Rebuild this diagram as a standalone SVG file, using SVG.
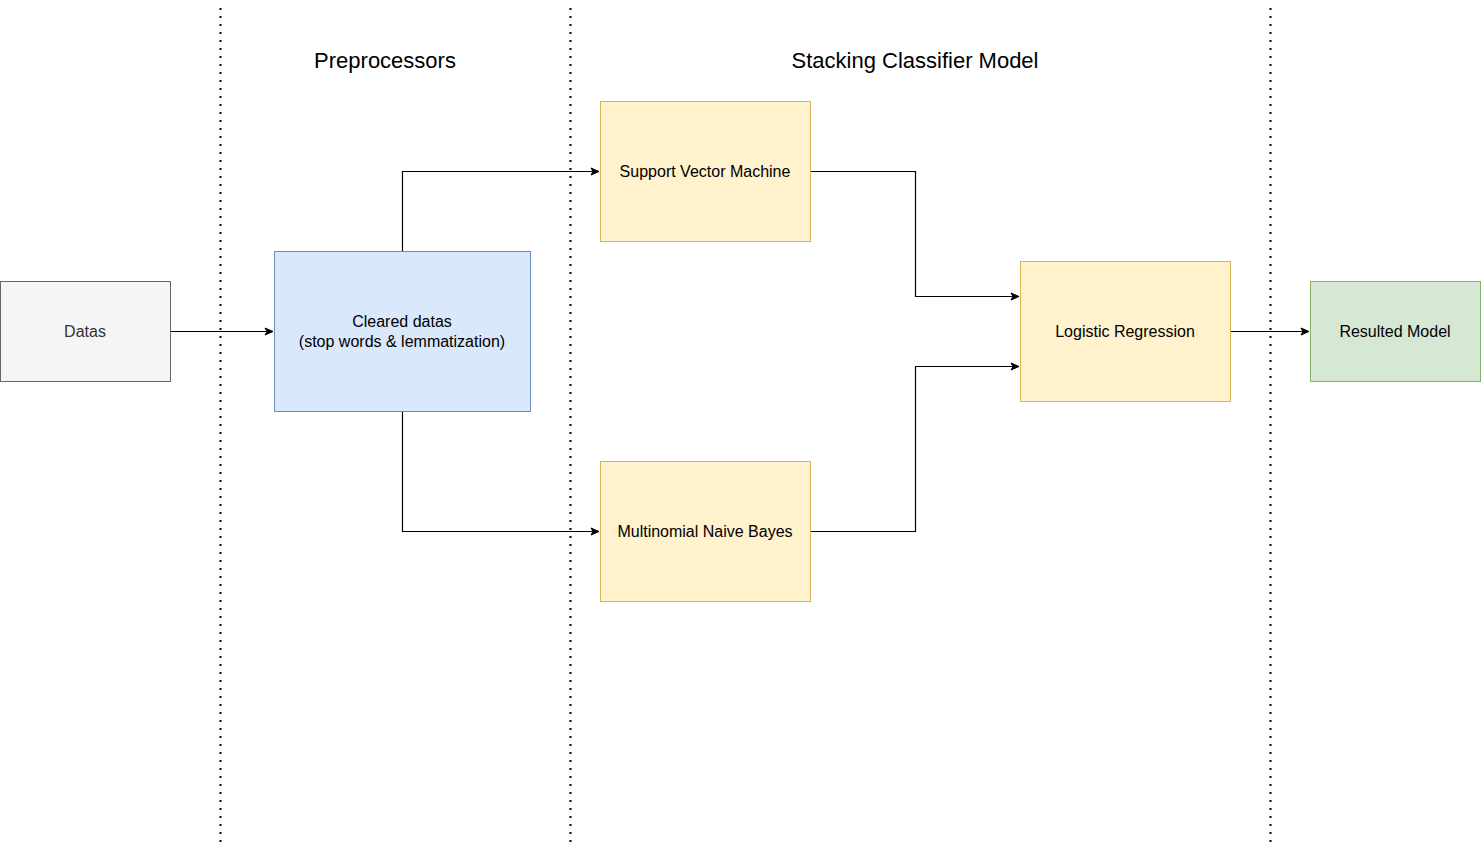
<svg xmlns="http://www.w3.org/2000/svg" width="1481" height="844" viewBox="0 0 1481 844">
<defs>
<marker id="arr" markerWidth="10" markerHeight="10" refX="9" refY="5" orient="auto" markerUnits="userSpaceOnUse">
<path d="M1,1.5 L9,5 L1,8.5 L3,5 Z" fill="#000" stroke="#000" stroke-width="1"/>
</marker>
<style>
.sep{stroke:#000;stroke-width:2;stroke-dasharray:2 6;fill:none}
.lbl{font-family:"Liberation Sans",Arial,sans-serif;font-size:16px;text-anchor:middle;dominant-baseline:central;fill:#000}
.title{font-family:"Liberation Sans",Arial,sans-serif;font-size:22px;text-anchor:middle;dominant-baseline:central;fill:#000}
.edge{stroke:#000;stroke-width:1.2;fill:none;marker-end:url(#arr)}
.gray{fill:#f5f5f5;stroke:#666666}
.blue{fill:#dae8fc;stroke:#6c8ebf}
.yel{fill:#fff2cc;stroke:#d6b656}
.grn{fill:#d5e8d4;stroke:#82b366}
</style>
</defs>
<rect width="1481" height="844" fill="#fff"/>
<g id="separators">
<line class="sep" x1="220.5" y1="8" x2="220.5" y2="844"/>
<line class="sep" x1="570.5" y1="8" x2="570.5" y2="844"/>
<line class="sep" x1="1270.5" y1="8" x2="1270.5" y2="844"/>
</g>
<g id="titles">
<text class="title" x="385" y="60">Preprocessors</text>
<text class="title" x="915" y="60">Stacking Classifier Model</text>
</g>
<g id="connectors">
<path class="edge" d="M170.5,331.5 L273,331.5"/>
<path class="edge" d="M402.5,251 L402.5,171.5 L599,171.5"/>
<path class="edge" d="M402.5,411 L402.5,531.5 L599,531.5"/>
<path class="edge" d="M810.5,171.5 L915.5,171.5 L915.5,296.5 L1019,296.5"/>
<path class="edge" d="M810.5,531.5 L915.5,531.5 L915.5,366.5 L1019,366.5"/>
<path class="edge" d="M1230.5,331.5 L1309,331.5"/>
</g>
<g id="datas">
<rect class="gray" x="0.5" y="281.5" width="170" height="100"/>
<text class="lbl" x="85" y="331" style="fill:#333333">Datas</text>
</g>
<g id="cleared">
<rect class="blue" x="274.5" y="251.5" width="256" height="160"/>
<text class="lbl" x="402" y="321">Cleared datas</text>
<text class="lbl" x="402" y="341">(stop words &amp; lemmatization)</text>
</g>
<g id="svm">
<rect class="yel" x="600.5" y="101.5" width="210" height="140"/>
<text class="lbl" x="705" y="171">Support Vector Machine</text>
</g>
<g id="mnb">
<rect class="yel" x="600.5" y="461.5" width="210" height="140"/>
<text class="lbl" x="705" y="531">Multinomial Naive Bayes</text>
</g>
<g id="lr">
<rect class="yel" x="1020.5" y="261.5" width="210" height="140"/>
<text class="lbl" x="1125" y="331">Logistic Regression</text>
</g>
<g id="result">
<rect class="grn" x="1310.5" y="281.5" width="170" height="100"/>
<text class="lbl" x="1395" y="331">Resulted Model</text>
</g>
</svg>
